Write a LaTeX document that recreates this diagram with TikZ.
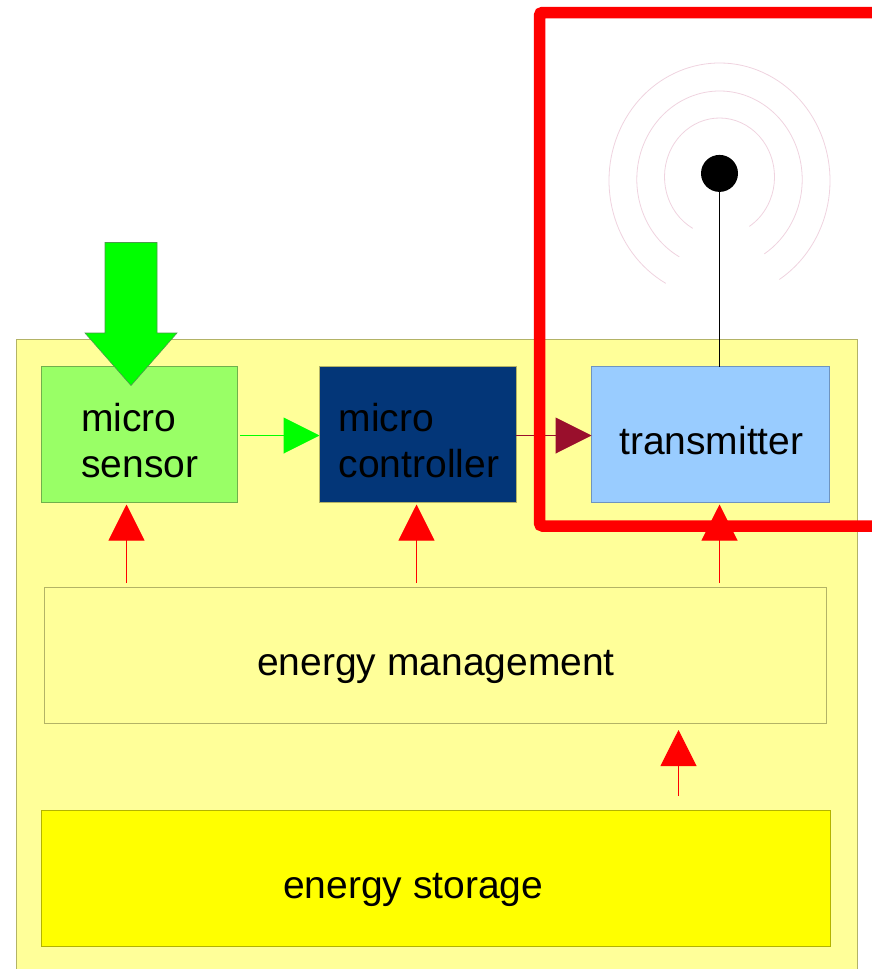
\documentclass[tikz,border=0pt]{standalone}
\usepackage{fontspec}
\setmainfont{Liberation Sans}
\usetikzlibrary{arrows.meta}
\definecolor{paleyellow}{HTML}{FFFF99}
\definecolor{olive}{HTML}{B3B366}
\definecolor{sensorgreen}{HTML}{99FF66}
\definecolor{sensoredge}{HTML}{70B04C}
\definecolor{navy}{HTML}{033678}
\definecolor{skyblue}{HTML}{99CCFF}
\definecolor{skyedge}{HTML}{6F94C0}
\definecolor{wine}{HTML}{990F2C}
\definecolor{ringpink}{HTML}{EFD3DF}
\definecolor{pureyellow}{HTML}{FFFF00}
\definecolor{yellowedge}{HTML}{B3B300}
\definecolor{puregreen}{HTML}{00FF00}
\definecolor{greenedge}{HTML}{4C9A4C}
\definecolor{purered}{HTML}{FF0000}
\tikzset{
  x=1pt,y=1pt,
  boxnode/.style={draw=olive,line width=0.8pt,inner sep=0pt,outer sep=0pt,anchor=north west,minimum height=136pt},
  label/.style={inner sep=0pt,font=\fontsize{39}{45.7}\selectfont,align=left,text=black},
  big/.style={-{Triangle[length=36pt,width=36pt]},line width=1pt},
  ring/.style={draw=ringpink,line width=0.8pt},
}
\begin{document}
\begin{tikzpicture}
\useasboundingbox (0,0) rectangle (872,-969);
\clip (0,0) rectangle (872,-969);
% module background
\path[fill=paleyellow,draw=olive,line width=0.8pt] (16.5,-339.5) rectangle (857.5,-980);
% boxes
\node[boxnode,fill=sensorgreen,minimum width=195.5pt,draw=sensoredge] (sensor) at (41.5,-366.5) {};
\node[boxnode,fill=navy,minimum width=196.5pt] (controller) at (319.5,-366.5) {};
\node[boxnode,fill=skyblue,draw=skyedge,minimum width=238pt] (transmitter) at (591.5,-366.5) {};
\node[boxnode,minimum width=782pt] (management) at (44.5,-587.5) {};
\node[boxnode,fill=pureyellow,draw=yellowedge,minimum width=788.5pt] (storage) at (41.5,-810.5) {};
% labels
\node[label,anchor=west] (sensortext) at (81,-440.5) {micro\\sensor};
\node[label,anchor=west,text=black] (controllertext) at (338.5,-440.5) {micro\\controller};
\node[label,anchor=base west] (transmittertext) at (619,-454.5) {transmitter};
\node[label,anchor=base west] (managementtext) at (257,-675) {energy management};
\node[label,anchor=base west] (storagetext) at (283,-898) {energy storage};
% antenna
\node[circle,fill=black,minimum size=37pt,inner sep=0pt,outer sep=0pt] (dot) at (719.5,-173.4) {};
\coordinate (feed) at (719.5,-366.5);
\draw[black,line width=1.2pt] (feed) -- (dot.south);
\draw[ring] (719.5,-176.9) ++(240.9:55 and 58.9) arc[start angle=240.9,end angle=-57.2,x radius=55,y radius=58.9];
\draw[ring] (719.5,-179.5) ++(240.9:82.7 and 88.5) arc[start angle=240.9,end angle=-57.2,x radius=82.7,y radius=88.5];
\draw[ring] (719.5,-180.6) ++(240.9:110.5 and 117.6) arc[start angle=240.9,end angle=-57.2,x radius=110.5,y radius=117.6];
% data connector shaft below frame
\coordinate (sensorout) at (240,-435.5);
\coordinate (datain) at (319.5,-435.5);
\coordinate (txin) at (591.5,-435.5);
\coordinate (dataout) at (515.5,-435.5);
\coordinate (tipbase) at (556,-435.5);
\draw[wine,line width=1pt] (dataout) -- (tipbase);
% red frame
\draw[purered,line width=11.5pt,rounded corners=3pt] (890,-12.5) -- (539.5,-12.5) -- (539.5,-526) -- (890,-526);
% arrows
\draw[big,puregreen] (sensorout) -- (datain);
\draw[wine,-{Triangle[length=36pt,width=36pt]},line width=1pt] (tipbase) -- (txin);
\coordinate (a1) at (126.5,-583);
\coordinate (a1t) at (126.5,-504.5);
\coordinate (a2) at (416.5,-583);
\coordinate (a2t) at (416.5,-504.5);
\coordinate (a3) at (719.5,-583);
\coordinate (a3t) at (719.5,-504.5);
\coordinate (a4) at (678.5,-796);
\coordinate (a4t) at (678.5,-730);
\draw[big,purered] (a1) -- (a1t);
\draw[big,purered] (a2) -- (a2t);
\draw[big,purered] (a3) -- (a3t);
\draw[big,purered] (a4) -- (a4t);
% big green input arrow
\path[fill=puregreen,draw=greenedge,line width=0.6pt] (105,-242.5) -- (157,-242.5) -- (157,-333) -- (177,-333) -- (131,-385.5) -- (85,-333) -- (105,-333) -- cycle;
\end{tikzpicture}
\end{document}
